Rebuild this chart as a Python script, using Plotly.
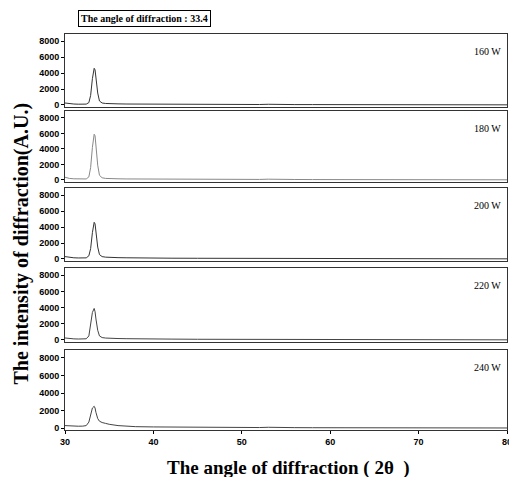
import plotly.graph_objects as go
from plotly.subplots import make_subplots

# ---- data ----
angle = [30, 30.5, 31, 31.5, 32, 32.4, 32.7, 32.9, 33.1, 33.3, 33.4, 33.5, 33.7, 33.9,
         34.2, 34.6, 35, 36, 37, 38, 40, 42, 45, 48, 50, 52, 53, 54, 56, 58, 60,
         62, 65, 68, 70, 72, 75, 78, 80]

w160 = [250, 150, 120, 100, 90, 110, 300, 1200, 3300, 4600, 4400, 3500, 1500, 500,
        250, 190, 160, 140, 120, 110, 100, 90, 80, 70, 70, 60, 90, 60, 50, 50, 40,
        40, 30, 30, 30, 20, 20, 20, 20]
w180 = [350, 200, 150, 120, 110, 130, 400, 1600, 4200, 5900, 5700, 4400, 1900, 600,
        280, 200, 170, 150, 130, 120, 100, 90, 80, 80, 70, 70, 100, 70, 60, 50, 50,
        40, 40, 30, 30, 30, 20, 20, 20]
w200 = [300, 180, 150, 130, 120, 140, 400, 1300, 3300, 4600, 4400, 3400, 1500, 550,
        300, 230, 200, 170, 150, 130, 110, 100, 90, 80, 80, 90, 140, 90, 70, 60, 50,
        50, 40, 40, 30, 30, 30, 20, 20]
w220 = [250, 170, 140, 120, 110, 150, 500, 1700, 3400, 3900, 3500, 2600, 1200, 500,
        300, 240, 210, 180, 160, 140, 120, 110, 90, 80, 80, 70, 90, 70, 60, 50, 50,
        40, 40, 30, 30, 30, 20, 20, 20]
w240 = [300, 260, 240, 230, 240, 300, 700, 1500, 2300, 2500, 2300, 1800, 1100, 800,
        650, 550, 450, 300, 220, 180, 150, 130, 110, 100, 90, 80, 110, 80, 70, 60, 60,
        50, 50, 40, 40, 40, 30, 30, 30]

series = [w160, w180, w200, w220, w240]
power_labels = ["160 W", "180 W", "200 W", "220 W", "240 W"]
y_ticks = [0, 2000, 4000, 6000, 8000]
x_ticks = [30, 40, 50, 60, 70, 80]

# ---- figure ----
fig = make_subplots(rows=5, cols=1, shared_xaxes=True)

domains = [(0.8167, 1.0), (0.6275, 0.8056), (0.4278, 0.6111), (0.2232, 0.4091), (0.0, 0.2020)]
line_colors = ["#333333", "#888888", "#333333", "#444444", "#444444"]

for i, ys in enumerate(series):
    fig.add_trace(go.Scatter(x=angle, y=ys, mode="lines",
                             line=dict(color=line_colors[i], width=1),
                             showlegend=False), row=i + 1, col=1)

tickfont = dict(family="Liberation Sans", size=9, color="black", weight="bold")
for i in range(5):
    xk = "xaxis" if i == 0 else f"xaxis{i+1}"
    yk = "yaxis" if i == 0 else f"yaxis{i+1}"
    fig.layout[yk].update(domain=list(domains[i]), range=[-200, 8900],
                          tickvals=y_ticks, ticks="outside", ticklen=3, tickwidth=1,
                          tickcolor="black", showline=True, linecolor="#333333",
                          linewidth=1, mirror=True, showgrid=False, zeroline=False,
                          tickfont=tickfont)
    fig.layout[xk].update(range=[30, 80], tickvals=x_ticks, showline=True,
                          linecolor="#333333", linewidth=1, mirror=True,
                          showgrid=False, zeroline=False,
                          ticks="outside" if i == 4 else "", ticklen=3,
                          tickcolor="black", tickfont=tickfont,
                          ticklabeloverflow="allow",
                          showticklabels=(i == 4))
    ytop = domains[i][1]
    fig.add_annotation(text=power_labels[i], xref="paper", yref="paper",
                       x=0.99, y=ytop - 0.025, xanchor="right", yanchor="top",
                       showarrow=False,
                       font=dict(family="Liberation Serif", size=10, color="black"))

fig.add_annotation(text="The angle of diffraction : 33.4", xref="paper", yref="paper",
                   x=0.179, y=1.040, xanchor="center", yanchor="middle", showarrow=False,
                   bordercolor="black", borderwidth=1, borderpad=2,
                   font=dict(family="Liberation Serif", size=10, color="black", weight="bold"))

fig.add_annotation(text="The intensity of diffraction(A.U.)", xref="paper", yref="paper",
                   x=-0.098, y=0.47, xanchor="center", yanchor="middle", textangle=-90,
                   showarrow=False,
                   font=dict(family="Liberation Serif", size=20, color="black", weight="bold"))

fig.add_annotation(text="The angle of diffraction ( 2θ  )", xref="paper", yref="paper",
                   x=0.505, y=-0.095, xanchor="center", yanchor="middle",
                   showarrow=False,
                   font=dict(family="Liberation Serif", size=19, color="black", weight="bold"))

# page body has an 8px margin, so the figure is sized/offset to land on the same pixels
fig.update_layout(width=509, height=469, margin=dict(l=57, r=5, t=26, b=47),
                  paper_bgcolor="white", plot_bgcolor="white")

fig.write_html("out.html")
